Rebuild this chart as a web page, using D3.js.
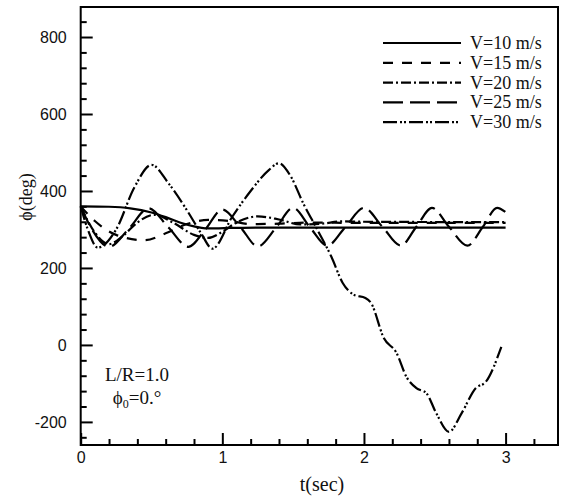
<!DOCTYPE html>
<html>
<head>
<meta charset="utf-8">
<script src="https://cdn.jsdelivr.net/npm/d3@7/dist/d3.min.js"></script>
<style>
  html, body { margin: 0; padding: 0; background: #fff; }
  svg { display: block; }
  .tick-label { font-family: "Liberation Sans", Arial, sans-serif; font-size: 16px; fill: #111; }
  .serif { font-family: "Liberation Serif", "Times New Roman", serif; fill: #111; }
</style>
</head>
<body>
<svg id="chart" width="563" height="497"></svg>
<script>
// Roll angle response phi(t) for several flight speeds
const seriesNames = ["V=10 m/s", "V=15 m/s", "V=20 m/s", "V=25 m/s", "V=30 m/s"];

const v10T   = [0, 0.2, 0.35, 0.5, 0.6, 0.7, 0.8, 0.88, 0.95, 1.05, 1.3, 2.0, 3.0];
const v10Phi = [360, 359, 355, 344, 332, 318, 308, 303, 303, 304, 305, 305, 305];

const v15T   = [0, 0.1, 0.25, 0.45, 0.6, 0.75, 0.9, 1.05, 1.2, 1.4, 1.6, 2.0, 3.0];
const v15Phi = [360, 322, 286, 272, 290, 314, 325, 322, 314, 315, 318, 317, 317];

const v20T   = [0, 0.1, 0.2, 0.3, 0.4, 0.52, 0.65, 0.8, 0.9, 1.0, 1.1, 1.25, 1.4, 1.55, 1.7, 1.85, 2.0, 3.0];
const v20Phi = [360, 292, 262, 284, 318, 338, 318, 286, 278, 294, 318, 334, 326, 313, 315, 321, 320, 319];

const v25T   = [0, 0.08, 0.2, 0.34, 0.48, 0.62, 0.76, 0.88, 1.0, 1.13, 1.25, 1.38, 1.5, 1.62, 1.74, 1.87, 2.0, 2.13, 2.26, 2.37, 2.48, 2.6, 2.73, 2.84, 2.94, 3.0];
const v25Phi = [360, 300, 255, 302, 355, 305, 255, 300, 352, 305, 256, 305, 356, 305, 258, 307, 356, 307, 258, 307, 356, 307, 258, 307, 356, 345];

const v30T   = [0, 0.05, 0.12, 0.25, 0.38, 0.5, 0.62, 0.75, 0.85, 0.93, 1.07, 1.2, 1.33, 1.4, 1.48, 1.57, 1.67, 1.77, 1.85, 1.93, 2.01, 2.05, 2.14, 2.23, 2.3, 2.37, 2.44, 2.51, 2.6, 2.69, 2.79, 2.86, 2.97];
const v30Phi = [360, 300, 253, 300, 410, 468, 420, 350, 290, 250, 333, 400, 455, 472, 440, 369, 300, 229, 161, 130, 122, 109, 18, -21, -83, -112, -125, -177, -226, -177, -112, -96, -5];

const seriesT   = [v10T, v15T, v20T, v25T, v30T];
const seriesPhi = [v10Phi, v15Phi, v20Phi, v25Phi, v30Phi];
const dashes = ["none", "10,9", "10,3,2,3", "20,7", "14,3,2,2,2,3"];

const xMajor = [0, 1, 2, 3];
const yMajor = [-200, 0, 200, 400, 600, 800];

const svg = d3.select("#chart");
const plotLeft = 80.7, plotRight = 558, plotTop = 7, plotBottom = 445;

const x = d3.scaleLinear().domain([0, 3.37]).range([plotLeft, plotRight]);
const y = d3.scaleLinear().domain([-260, 878]).range([plotBottom, plotTop]);

const xMinor = d3.range(0.2, 3.3, 0.2).filter(v => Math.abs(v - Math.round(v)) > 1e-6);
const yMinor = d3.range(-240, 878, 40).filter(v => v % 200 !== 0);

// plain hyphen for negative labels
const intFmt = d => String(Math.round(d));

// curves
const line = d3.line().x(d => x(d[0])).y(d => y(d[1])).curve(d3.curveMonotoneX);
const plot = svg.append("g");
seriesT.forEach((ts, i) => {
  plot.append("path")
    .datum(ts.map((t, k) => [t, seriesPhi[i][k]]))
    .attr("d", line)
    .attr("fill", "none")
    .attr("stroke", "#000")
    .attr("stroke-width", 2.2)
    .attr("stroke-dasharray", dashes[i]);
});

// inward ticks on left and bottom axes
const xAxis = d3.axisBottom(x).tickValues(xMajor).tickSizeInner(-12).tickSizeOuter(0).tickPadding(7).tickFormat(intFmt);
const xAxisMinor = d3.axisBottom(x).tickValues(xMinor).tickSizeInner(-6).tickSizeOuter(0).tickFormat("");
const yAxis = d3.axisLeft(y).tickValues(yMajor).tickSizeInner(-12).tickSizeOuter(0).tickPadding(14).tickFormat(intFmt);
const yAxisMinor = d3.axisLeft(y).tickValues(yMinor).tickSizeInner(-6).tickSizeOuter(0).tickFormat("");

function styleAxis(g) {
  g.select(".domain").remove();
  g.selectAll(".tick line").attr("stroke", "#000").attr("stroke-width", 2);
  g.selectAll(".tick text").attr("class", "tick-label").attr("fill", "#111");
}
svg.append("g").attr("transform", `translate(0,${plotBottom})`).call(xAxis).call(styleAxis)
  .selectAll(".tick text").attr("y", 7).attr("dy", "0.71em");
svg.append("g").attr("transform", `translate(0,${plotBottom})`).call(xAxisMinor).call(styleAxis);
svg.append("g").attr("transform", `translate(${plotLeft},0)`).call(yAxis).call(styleAxis)
  .selectAll(".tick text").attr("x", -14);
svg.append("g").attr("transform", `translate(${plotLeft},0)`).call(yAxisMinor).call(styleAxis);

// frame
svg.append("rect")
  .attr("x", plotLeft).attr("y", plotTop)
  .attr("width", plotRight - plotLeft).attr("height", plotBottom - plotTop)
  .attr("fill", "none").attr("stroke", "#000").attr("stroke-width", 2);

// axis titles
svg.append("text").attr("class", "serif")
  .attr("x", 322).attr("y", 491)
  .attr("text-anchor", "middle").attr("font-size", 20)
  .text("t(sec)");
svg.append("text").attr("class", "serif")
  .attr("transform", `translate(32,${y(400) + 6}) rotate(-90)`)
  .attr("text-anchor", "middle").attr("font-size", 18)
  .text("\u03D5(deg)");

// legend
const legend = svg.append("g");
seriesNames.forEach((name, i) => {
  const yy = 43 + i * 19.8;
  legend.append("line")
    .attr("x1", 383).attr("x2", 461).attr("y1", yy).attr("y2", yy)
    .attr("stroke", "#000").attr("stroke-width", 2.2)
    .attr("stroke-dasharray", dashes[i]);
  legend.append("text").attr("class", "serif")
    .attr("x", 470).attr("y", yy + 6).attr("font-size", 18)
    .text(name);
});

// case annotation
svg.append("text").attr("class", "serif")
  .attr("x", 137).attr("y", 381).attr("text-anchor", "middle").attr("font-size", 19)
  .text("L/R=1.0");
const ann = svg.append("text").attr("class", "serif")
  .attr("x", 137).attr("y", 404).attr("text-anchor", "middle").attr("font-size", 19);
ann.append("tspan").text("\u03D5");
ann.append("tspan").attr("font-size", 12).attr("dy", 4).text("0");
ann.append("tspan").attr("dy", -4).text("=0.\u00B0");
</script>
</body>
</html>
